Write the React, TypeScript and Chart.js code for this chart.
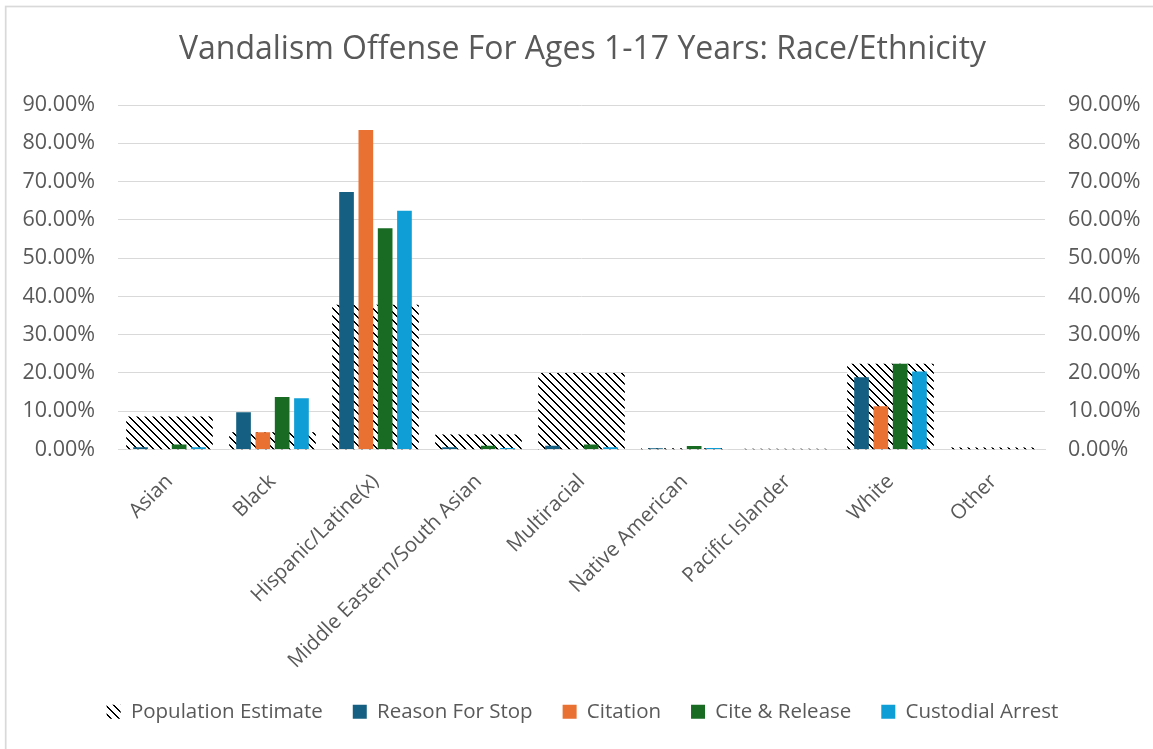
import React, { useEffect, useRef } from "react";
import { Chart, registerables } from "chart.js";

Chart.register(...registerables);

const categories = [
  "Asian",
  "Black",
  "Hispanic/Latine(x)",
  "Middle Eastern/South Asian",
  "Multiracial",
  "Native American",
  "Pacific Islander",
  "White",
  "Other",
];
const populationEstimate = [8.6, 4.5, 37.8, 3.9, 20.0, 0.3, 0.2, 22.4, 0.5];
const reasonForStop = [0.6, 9.7, 67.3, 0.6, 1.0, 0.35, 0, 18.9, 0];
const citation = [0, 4.5, 83.5, 0, 0, 0, 0, 11.3, 0];
const citeRelease = [1.3, 13.7, 57.8, 1.0, 1.3, 0.9, 0, 22.4, 0];
const custodialArrest = [0.6, 13.4, 62.4, 0.4, 0.6, 0.4, 0, 20.4, 0];
const axisMax = 90;
const axisStep = 10;

const FONT = "'Open Sans', 'Liberation Sans', sans-serif";
const TEXT = "#595959";

function makeHatch(): CanvasPattern | string {
  const c = document.createElement("canvas");
  c.width = 8;
  c.height = 8;
  const g = c.getContext("2d");
  if (!g) return "#000";
  g.fillStyle = "#ffffff";
  g.fillRect(0, 0, 8, 8);
  g.fillStyle = "#000000";
  for (let i = 0; i < 8; i++) {
    g.fillRect(i, i, 1, 1);
    g.fillRect((i + 1) % 8, i, 1, 1);
  }
  const p = g.createPattern(c, "repeat");
  return p || "#000";
}

const borderPlugin = {
  id: "frame",
  beforeDraw(chart: any) {
    const ctx = chart.ctx;
    ctx.save();
    ctx.fillStyle = "#ffffff";
    ctx.fillRect(0, 0, chart.width, chart.height);
    ctx.strokeStyle = "#D9D9D9";
    ctx.lineWidth = 1.7;
    ctx.strokeRect(5.7, 6.5, chart.width + 20, chart.height + 20);
    ctx.restore();
  },
};

const seriesOpts = {
  xAxisID: "x",
  yAxisID: "y",
  order: 1,
  categoryPercentage: 0.75,
  barPercentage: 0.76,
};

export default function App() {
  const ref = useRef<HTMLCanvasElement | null>(null);
  useEffect(() => {
    document.body.style.margin = "0";
    if (!ref.current) return;
    const hatch = makeHatch();
    const fmt = (v: any) => Number(v).toFixed(2) + "%";
    const chart = new Chart(ref.current, {
      type: "bar",
      data: {
        labels: categories,
        datasets: [
          {
            label: "Population Estimate",
            data: populationEstimate,
            backgroundColor: hatch as any,
            xAxisID: "x",
            yAxisID: "y2",
            order: 5,
            grouped: false,
            categoryPercentage: 1,
            barPercentage: 0.84,
          },
          { label: "Reason For Stop", data: reasonForStop, backgroundColor: "#156082", ...seriesOpts },
          { label: "Citation", data: citation, backgroundColor: "#E97132", ...seriesOpts },
          { label: "Cite & Release", data: citeRelease, backgroundColor: "#196B24", ...seriesOpts },
          { label: "Custodial Arrest", data: custodialArrest, backgroundColor: "#0F9ED5", ...seriesOpts },
        ],
      },
      options: {
        animation: false,
        responsive: false,
        maintainAspectRatio: false,
        layout: { padding: { top: 14, bottom: 17, left: 12, right: 0 } },
        plugins: {
          title: {
            display: true,
            text: "Vandalism Offense For Ages 1-17 Years: Race/Ethnicity",
            color: TEXT,
            font: { family: FONT, size: 32, weight: "normal" },
            padding: { top: 17, bottom: 35.6 },
          },
          legend: {
            position: "bottom",
            labels: {
              color: TEXT,
              font: { family: FONT, size: 20.5 },
              boxWidth: 14,
              boxHeight: 14,
              padding: 30,
              sort: (a: any, b: any) => a.datasetIndex - b.datasetIndex,
            },
          },
          tooltip: { enabled: false },
        },
        scales: {
          x: {
            type: "category",
            position: "bottom",
            grid: { display: false, drawTicks: false },
            border: { display: true, color: "#D9D9D9", width: 1 },
            ticks: {
              color: TEXT,
              font: { family: FONT, size: 20.5 },
              autoSkip: false,
              minRotation: 45,
              maxRotation: 45,
              padding: 20,
            },
            afterFit: (s: any) => {
              s.height = 222;
            },
          },
          y: {
            position: "left",
            min: 0,
            max: axisMax,
            ticks: {
              stepSize: axisStep,
              callback: fmt,
              color: TEXT,
              font: { family: FONT, size: 21.5 },
              padding: 23,
            },
            grid: { color: "#D9D9D9", lineWidth: 1, drawTicks: false },
            border: { display: false },
            afterFit: (s: any) => {
              s.width = 106;
            },
          },
          y2: {
            position: "right",
            min: 0,
            max: axisMax,
            ticks: {
              stepSize: axisStep,
              callback: fmt,
              color: TEXT,
              font: { family: FONT, size: 21.5 },
              padding: 23,
            },
            grid: { display: false, drawTicks: false },
            border: { display: false },
            afterFit: (s: any) => {
              s.width = 108;
            },
          },
        },
      },
      plugins: [borderPlugin],
    } as any);
    return () => chart.destroy();
  }, []);
  return (
    <div style={{ width: 1153, height: 749 }}>
      <canvas ref={ref} width={1153} height={749} style={{ display: "block" }} />
    </div>
  );
}
